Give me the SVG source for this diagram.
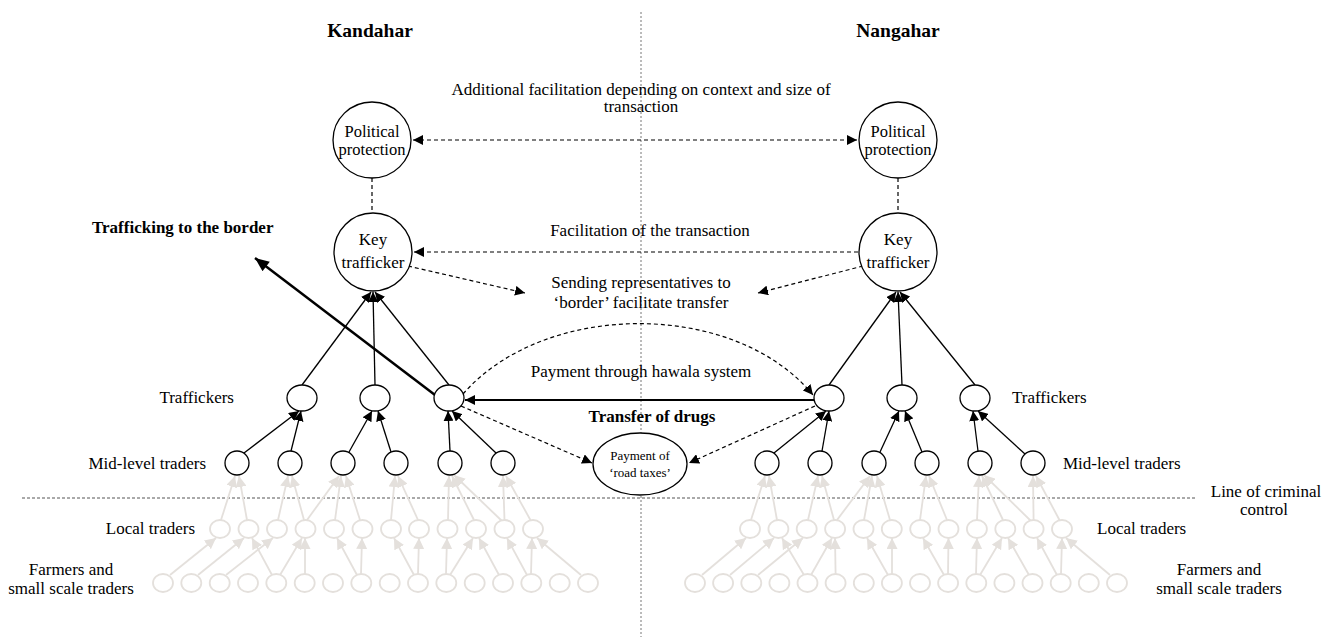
<svg xmlns="http://www.w3.org/2000/svg" width="1334" height="637" viewBox="0 0 1334 637">
<defs>
<marker id="ah" viewBox="0 0 10 10" refX="10" refY="5" markerWidth="10" markerHeight="10" markerUnits="userSpaceOnUse" orient="auto-start-reverse"><path d="M0,0 L10,5 L0,10 z" fill="#000"/></marker>
<marker id="ahg" viewBox="0 0 10 10" refX="10" refY="5" markerWidth="11" markerHeight="11" markerUnits="userSpaceOnUse" orient="auto"><path d="M0,0 L10,5 L0,10 z" fill="#e4e0dc"/></marker>
<marker id="ahb" viewBox="0 0 14 12" refX="14" refY="6" markerWidth="15" markerHeight="12" markerUnits="userSpaceOnUse" orient="auto"><path d="M0,0 L14,6 L0,12 z" fill="#000"/></marker>
</defs>
<style>
.t{font-family:"Liberation Serif","Times New Roman",serif;font-size:17px;fill:#000}
.b{font-weight:bold}
.m{text-anchor:middle}
.e{text-anchor:end}
.c{fill:#fff;stroke:#000;stroke-width:1.3}
.g{fill:#fff;stroke:#e4e0dc;stroke-width:1.8}
.ln{stroke:#000;stroke-width:1.3;fill:none}
.ds{stroke:#000;stroke-width:1.2;stroke-dasharray:4 3;fill:none}
.gl{stroke:#e4e0dc;stroke-width:1.8;fill:none}
.dv{stroke:#777;stroke-width:1;stroke-dasharray:2 2;fill:none}
</style>
<rect x="0" y="0" width="1334" height="637" fill="#fff"/>

<g id="divider"><line class="dv" x1="641" y1="12" x2="641" y2="637"/></g>
<g id="control-line"><line x1="22" y1="498" x2="1195" y2="498" stroke="#555" stroke-width="1" stroke-dasharray="3 2"/></g>

<g id="connectors">
  <g class="gl" marker-end="url(#ahg)">
    <line x1="221" y1="520" x2="235" y2="476"/>
    <line x1="247" y1="520" x2="239" y2="476"/>
    <line x1="278" y1="520" x2="288" y2="476"/>
    <line x1="304" y1="520" x2="292" y2="476"/>
    <line x1="307" y1="520" x2="339" y2="476"/>
    <line x1="335" y1="520" x2="341" y2="476"/>
    <line x1="360" y1="520" x2="346" y2="476"/>
    <line x1="391" y1="520" x2="395" y2="476"/>
    <line x1="418" y1="520" x2="398" y2="476"/>
    <line x1="448" y1="520" x2="449" y2="476"/>
    <line x1="474" y1="520" x2="452" y2="476"/>
    <line x1="502" y1="521" x2="454" y2="475"/>
    <line x1="504.5" y1="520" x2="503" y2="476"/>
    <line x1="531" y1="521" x2="506" y2="476"/>
  </g>
  <g class="gl" marker-end="url(#ahg)">
    <line x1="170" y1="575" x2="216" y2="538"/>
    <line x1="198" y1="575" x2="244" y2="538"/>
    <line x1="226" y1="575" x2="273" y2="538"/>
    <line x1="272" y1="575" x2="252" y2="538"/>
    <line x1="280" y1="575" x2="302" y2="538"/>
    <line x1="305" y1="574" x2="305" y2="538"/>
    <line x1="357" y1="575" x2="337" y2="538"/>
    <line x1="361" y1="574" x2="362" y2="538"/>
    <line x1="414" y1="575" x2="394" y2="538"/>
    <line x1="418" y1="574" x2="419" y2="538"/>
    <line x1="446" y1="574" x2="447" y2="538"/>
    <line x1="450" y1="575" x2="473" y2="538"/>
    <line x1="499" y1="575" x2="479" y2="538"/>
    <line x1="527" y1="575" x2="507" y2="538"/>
    <line x1="531" y1="574" x2="532" y2="538"/>
    <line x1="581" y1="575" x2="537" y2="538"/>
  </g>
  <g class="gl" marker-end="url(#ahg)">
    <line x1="751" y1="520" x2="765" y2="476"/>
    <line x1="777" y1="520" x2="769" y2="476"/>
    <line x1="808" y1="520" x2="818" y2="476"/>
    <line x1="834" y1="520" x2="822" y2="476"/>
    <line x1="837" y1="520" x2="870" y2="476"/>
    <line x1="864" y1="520" x2="872" y2="476"/>
    <line x1="890" y1="520" x2="877" y2="476"/>
    <line x1="920" y1="520" x2="926" y2="476"/>
    <line x1="947" y1="520" x2="929" y2="476"/>
    <line x1="977" y1="520" x2="979" y2="476"/>
    <line x1="1003" y1="520" x2="982" y2="476"/>
    <line x1="1031" y1="521" x2="984" y2="475"/>
    <line x1="1033.6" y1="520" x2="1033" y2="476"/>
    <line x1="1060" y1="521" x2="1036" y2="476"/>
  </g>
  <g class="gl" marker-end="url(#ahg)">
    <line x1="702" y1="575" x2="746" y2="538"/>
    <line x1="730" y1="575" x2="774" y2="538"/>
    <line x1="758" y1="575" x2="803" y2="538"/>
    <line x1="804" y1="575" x2="782" y2="538"/>
    <line x1="811" y1="575" x2="832" y2="538"/>
    <line x1="835.6" y1="574" x2="835" y2="538"/>
    <line x1="888" y1="575" x2="867" y2="538"/>
    <line x1="892" y1="574" x2="892" y2="538"/>
    <line x1="944" y1="575" x2="923" y2="538"/>
    <line x1="948" y1="574" x2="948.5" y2="538"/>
    <line x1="976" y1="574" x2="977" y2="538"/>
    <line x1="980" y1="575" x2="1002" y2="538"/>
    <line x1="1029" y1="575" x2="1008" y2="538"/>
    <line x1="1057" y1="575" x2="1037" y2="538"/>
    <line x1="1061" y1="574" x2="1062" y2="538"/>
    <line x1="1110" y1="575" x2="1066" y2="538"/>
  </g>

  <g class="ln" marker-end="url(#ah)">
    <line x1="244" y1="453" x2="299" y2="411"/>
    <line x1="291" y1="451" x2="301" y2="411"/>
    <line x1="349" y1="452" x2="372" y2="411"/>
    <line x1="391" y1="452" x2="378" y2="411"/>
    <line x1="450" y1="451" x2="448" y2="411"/>
    <line x1="496" y1="453" x2="452" y2="411"/>
    <line x1="774" y1="453" x2="826" y2="411"/>
    <line x1="822" y1="451" x2="829" y2="411"/>
    <line x1="880" y1="452" x2="899" y2="411"/>
    <line x1="922" y1="452" x2="905" y2="411"/>
    <line x1="978" y1="451" x2="973" y2="411"/>
    <line x1="1025" y1="454" x2="978" y2="411"/>
  </g>
  <g class="ln" marker-end="url(#ah)">
    <line x1="302" y1="385" x2="371" y2="292"/>
    <line x1="375" y1="385" x2="373" y2="292"/>
    <line x1="449" y1="385" x2="375" y2="292"/>
    <line x1="829" y1="385" x2="896" y2="292"/>
    <line x1="902" y1="385" x2="898" y2="292"/>
    <line x1="975" y1="385" x2="900" y2="292"/>
  </g>

  <line class="ds" x1="372" y1="178" x2="372" y2="213"/>
  <line class="ds" x1="898" y1="178" x2="898" y2="213"/>
  <line class="ds" x1="413" y1="140" x2="857" y2="140" marker-start="url(#ah)" marker-end="url(#ah)"/>
  <line class="ds" x1="858" y1="252" x2="414" y2="252" marker-end="url(#ah)"/>
  <line class="ds" x1="408" y1="266" x2="525" y2="293" marker-end="url(#ah)"/>
  <line class="ds" x1="863" y1="266" x2="758" y2="293" marker-end="url(#ah)"/>
  <line x1="435" y1="395" x2="255" y2="258" stroke="#000" stroke-width="2.5" marker-end="url(#ahb)"/>
  <path class="ds" d="M463,394 C545,300 735,300 813,395" marker-end="url(#ah)"/>
  <line x1="814" y1="400" x2="465" y2="400" stroke="#000" stroke-width="2" marker-end="url(#ah)"/>
  <line class="ds" x1="461" y1="406" x2="592" y2="463" marker-end="url(#ah)"/>
  <line class="ds" x1="815" y1="406" x2="689" y2="463" marker-end="url(#ah)"/>
</g>

<g id="k-political"><ellipse class="c" cx="372" cy="140" rx="39" ry="38"/><text class="t m" x="372" y="137" style="font-size:16.5px">Political</text><text class="t m" x="372" y="155" style="font-size:16.5px">protection</text></g>
<g id="k-key"><ellipse class="c" cx="373" cy="252" rx="39" ry="39"/><text class="t m" x="373" y="245">Key</text><text class="t m" x="373" y="268">trafficker</text></g>
<g id="k-t1"><ellipse class="c" cx="302" cy="398" rx="15" ry="13"/></g>
<g id="k-t2"><ellipse class="c" cx="375" cy="398" rx="15" ry="13"/></g>
<g id="k-t3"><ellipse class="c" cx="449" cy="398" rx="15" ry="13"/></g>
<g id="k-m1"><circle class="c" cx="237" cy="463" r="12"/></g>
<g id="k-m2"><circle class="c" cx="290" cy="463" r="12"/></g>
<g id="k-m3"><circle class="c" cx="343" cy="463" r="12"/></g>
<g id="k-m4"><circle class="c" cx="396" cy="463" r="12"/></g>
<g id="k-m5"><circle class="c" cx="450" cy="463" r="12"/></g>
<g id="k-m6"><circle class="c" cx="503" cy="463" r="12"/></g>
<g id="k-local">
  <ellipse id="k-l1" class="g" cx="220" cy="529" rx="10" ry="9"/>
  <ellipse id="k-l2" class="g" cx="248.5" cy="529" rx="10" ry="9"/>
  <ellipse id="k-l3" class="g" cx="277" cy="529" rx="10" ry="9"/>
  <ellipse id="k-l4" class="g" cx="305.5" cy="529" rx="10" ry="9"/>
  <ellipse id="k-l5" class="g" cx="334" cy="529" rx="10" ry="9"/>
  <ellipse id="k-l6" class="g" cx="362.5" cy="529" rx="10" ry="9"/>
  <ellipse id="k-l7" class="g" cx="391" cy="529" rx="10" ry="9"/>
  <ellipse id="k-l8" class="g" cx="419" cy="529" rx="10" ry="9"/>
  <ellipse id="k-l9" class="g" cx="447.5" cy="529" rx="10" ry="9"/>
  <ellipse id="k-l10" class="g" cx="476" cy="529" rx="10" ry="9"/>
  <ellipse id="k-l11" class="g" cx="504.5" cy="529" rx="10" ry="9"/>
  <ellipse id="k-l12" class="g" cx="533" cy="529" rx="10" ry="9"/>
</g>
<g id="k-farmers">
  <ellipse id="k-f1" class="g" cx="163" cy="583" rx="10" ry="9"/>
  <ellipse id="k-f2" class="g" cx="191.3" cy="583" rx="10" ry="9"/>
  <ellipse id="k-f3" class="g" cx="219.7" cy="583" rx="10" ry="9"/>
  <ellipse id="k-f4" class="g" cx="248" cy="583" rx="10" ry="9"/>
  <ellipse id="k-f5" class="g" cx="276.3" cy="583" rx="10" ry="9"/>
  <ellipse id="k-f6" class="g" cx="304.7" cy="583" rx="10" ry="9"/>
  <ellipse id="k-f7" class="g" cx="333" cy="583" rx="10" ry="9"/>
  <ellipse id="k-f8" class="g" cx="361.3" cy="583" rx="10" ry="9"/>
  <ellipse id="k-f9" class="g" cx="389.7" cy="583" rx="10" ry="9"/>
  <ellipse id="k-f10" class="g" cx="418" cy="583" rx="10" ry="9"/>
  <ellipse id="k-f11" class="g" cx="446.3" cy="583" rx="10" ry="9"/>
  <ellipse id="k-f12" class="g" cx="474.7" cy="583" rx="10" ry="9"/>
  <ellipse id="k-f13" class="g" cx="503" cy="583" rx="10" ry="9"/>
  <ellipse id="k-f14" class="g" cx="531.3" cy="583" rx="10" ry="9"/>
  <ellipse id="k-f15" class="g" cx="559.7" cy="583" rx="10" ry="9"/>
  <ellipse id="k-f16" class="g" cx="588" cy="583" rx="10" ry="9"/>
</g>

<g id="n-political"><ellipse class="c" cx="898" cy="140" rx="39" ry="38"/><text class="t m" x="898" y="137" style="font-size:16.5px">Political</text><text class="t m" x="898" y="155" style="font-size:16.5px">protection</text></g>
<g id="n-key"><ellipse class="c" cx="898" cy="252" rx="39" ry="39"/><text class="t m" x="898" y="245">Key</text><text class="t m" x="898" y="268">trafficker</text></g>
<g id="n-t1"><ellipse class="c" cx="829" cy="398" rx="15" ry="13"/></g>
<g id="n-t2"><ellipse class="c" cx="902" cy="398" rx="15" ry="13"/></g>
<g id="n-t3"><ellipse class="c" cx="975" cy="398" rx="15" ry="13"/></g>
<g id="n-m1"><circle class="c" cx="767" cy="463" r="12"/></g>
<g id="n-m2"><circle class="c" cx="820" cy="463" r="12"/></g>
<g id="n-m3"><circle class="c" cx="874" cy="463" r="12"/></g>
<g id="n-m4"><circle class="c" cx="927" cy="463" r="12"/></g>
<g id="n-m5"><circle class="c" cx="980" cy="463" r="12"/></g>
<g id="n-m6"><circle class="c" cx="1033" cy="463" r="12"/></g>
<g id="n-local">
  <ellipse id="n-l1" class="g" cx="750" cy="529" rx="10" ry="9"/>
  <ellipse id="n-l2" class="g" cx="778.4" cy="529" rx="10" ry="9"/>
  <ellipse id="n-l3" class="g" cx="806.7" cy="529" rx="10" ry="9"/>
  <ellipse id="n-l4" class="g" cx="835.1" cy="529" rx="10" ry="9"/>
  <ellipse id="n-l5" class="g" cx="863.5" cy="529" rx="10" ry="9"/>
  <ellipse id="n-l6" class="g" cx="891.8" cy="529" rx="10" ry="9"/>
  <ellipse id="n-l7" class="g" cx="920.2" cy="529" rx="10" ry="9"/>
  <ellipse id="n-l8" class="g" cx="948.5" cy="529" rx="10" ry="9"/>
  <ellipse id="n-l9" class="g" cx="976.9" cy="529" rx="10" ry="9"/>
  <ellipse id="n-l10" class="g" cx="1005.3" cy="529" rx="10" ry="9"/>
  <ellipse id="n-l11" class="g" cx="1033.6" cy="529" rx="10" ry="9"/>
  <ellipse id="n-l12" class="g" cx="1062" cy="529" rx="10" ry="9"/>
</g>
<g id="n-farmers">
  <ellipse id="n-f1" class="g" cx="695" cy="583" rx="10" ry="9"/>
  <ellipse id="n-f2" class="g" cx="723.1" cy="583" rx="10" ry="9"/>
  <ellipse id="n-f3" class="g" cx="751.3" cy="583" rx="10" ry="9"/>
  <ellipse id="n-f4" class="g" cx="779.4" cy="583" rx="10" ry="9"/>
  <ellipse id="n-f5" class="g" cx="807.5" cy="583" rx="10" ry="9"/>
  <ellipse id="n-f6" class="g" cx="835.6" cy="583" rx="10" ry="9"/>
  <ellipse id="n-f7" class="g" cx="863.8" cy="583" rx="10" ry="9"/>
  <ellipse id="n-f8" class="g" cx="891.9" cy="583" rx="10" ry="9"/>
  <ellipse id="n-f9" class="g" cx="920" cy="583" rx="10" ry="9"/>
  <ellipse id="n-f10" class="g" cx="948.1" cy="583" rx="10" ry="9"/>
  <ellipse id="n-f11" class="g" cx="976.3" cy="583" rx="10" ry="9"/>
  <ellipse id="n-f12" class="g" cx="1004.4" cy="583" rx="10" ry="9"/>
  <ellipse id="n-f13" class="g" cx="1032.5" cy="583" rx="10" ry="9"/>
  <ellipse id="n-f14" class="g" cx="1060.7" cy="583" rx="10" ry="9"/>
  <ellipse id="n-f15" class="g" cx="1088.8" cy="583" rx="10" ry="9"/>
  <ellipse id="n-f16" class="g" cx="1117" cy="583" rx="10" ry="9"/>
</g>

<g id="road-taxes"><ellipse class="c" cx="640" cy="464" rx="47" ry="31"/><text class="t m" x="640" y="460" style="font-size:13px">Payment of</text><text class="t m" x="640" y="477" style="font-size:13px">‘road taxes’</text></g>

<g id="labels">
  <text class="t b m" x="370" y="37" style="font-size:19.5px">Kandahar</text>
  <text class="t b m" x="898" y="37" style="font-size:19.5px">Nangahar</text>
  <text class="t m" x="641" y="95">Additional facilitation depending on context and size of</text>
  <text class="t m" x="641" y="112">transaction</text>
  <text class="t m" x="650" y="236">Facilitation of the transaction</text>
  <text class="t b" x="92" y="233">Trafficking to the border</text>
  <text class="t m" x="641" y="288">Sending representatives to</text>
  <text class="t m" x="641" y="308">‘border’ facilitate transfer</text>
  <text class="t m" x="641" y="377">Payment through hawala system</text>
  <text class="t b m" x="652" y="422">Transfer of drugs</text>
  <text class="t e" x="234" y="403">Traffickers</text>
  <text class="t" x="1012" y="403">Traffickers</text>
  <text class="t e" x="206" y="469">Mid-level traders</text>
  <text class="t" x="1063" y="469">Mid-level traders</text>
  <text class="t m" x="1266" y="497">Line of criminal</text>
  <text class="t m" x="1264" y="515">control</text>
  <text class="t e" x="195" y="534">Local traders</text>
  <text class="t" x="1097" y="534">Local traders</text>
  <text class="t m" x="71" y="575">Farmers and</text>
  <text class="t m" x="71" y="594">small scale traders</text>
  <text class="t m" x="1219" y="575">Farmers and</text>
  <text class="t m" x="1219" y="594">small scale traders</text>
</g>
</svg>
